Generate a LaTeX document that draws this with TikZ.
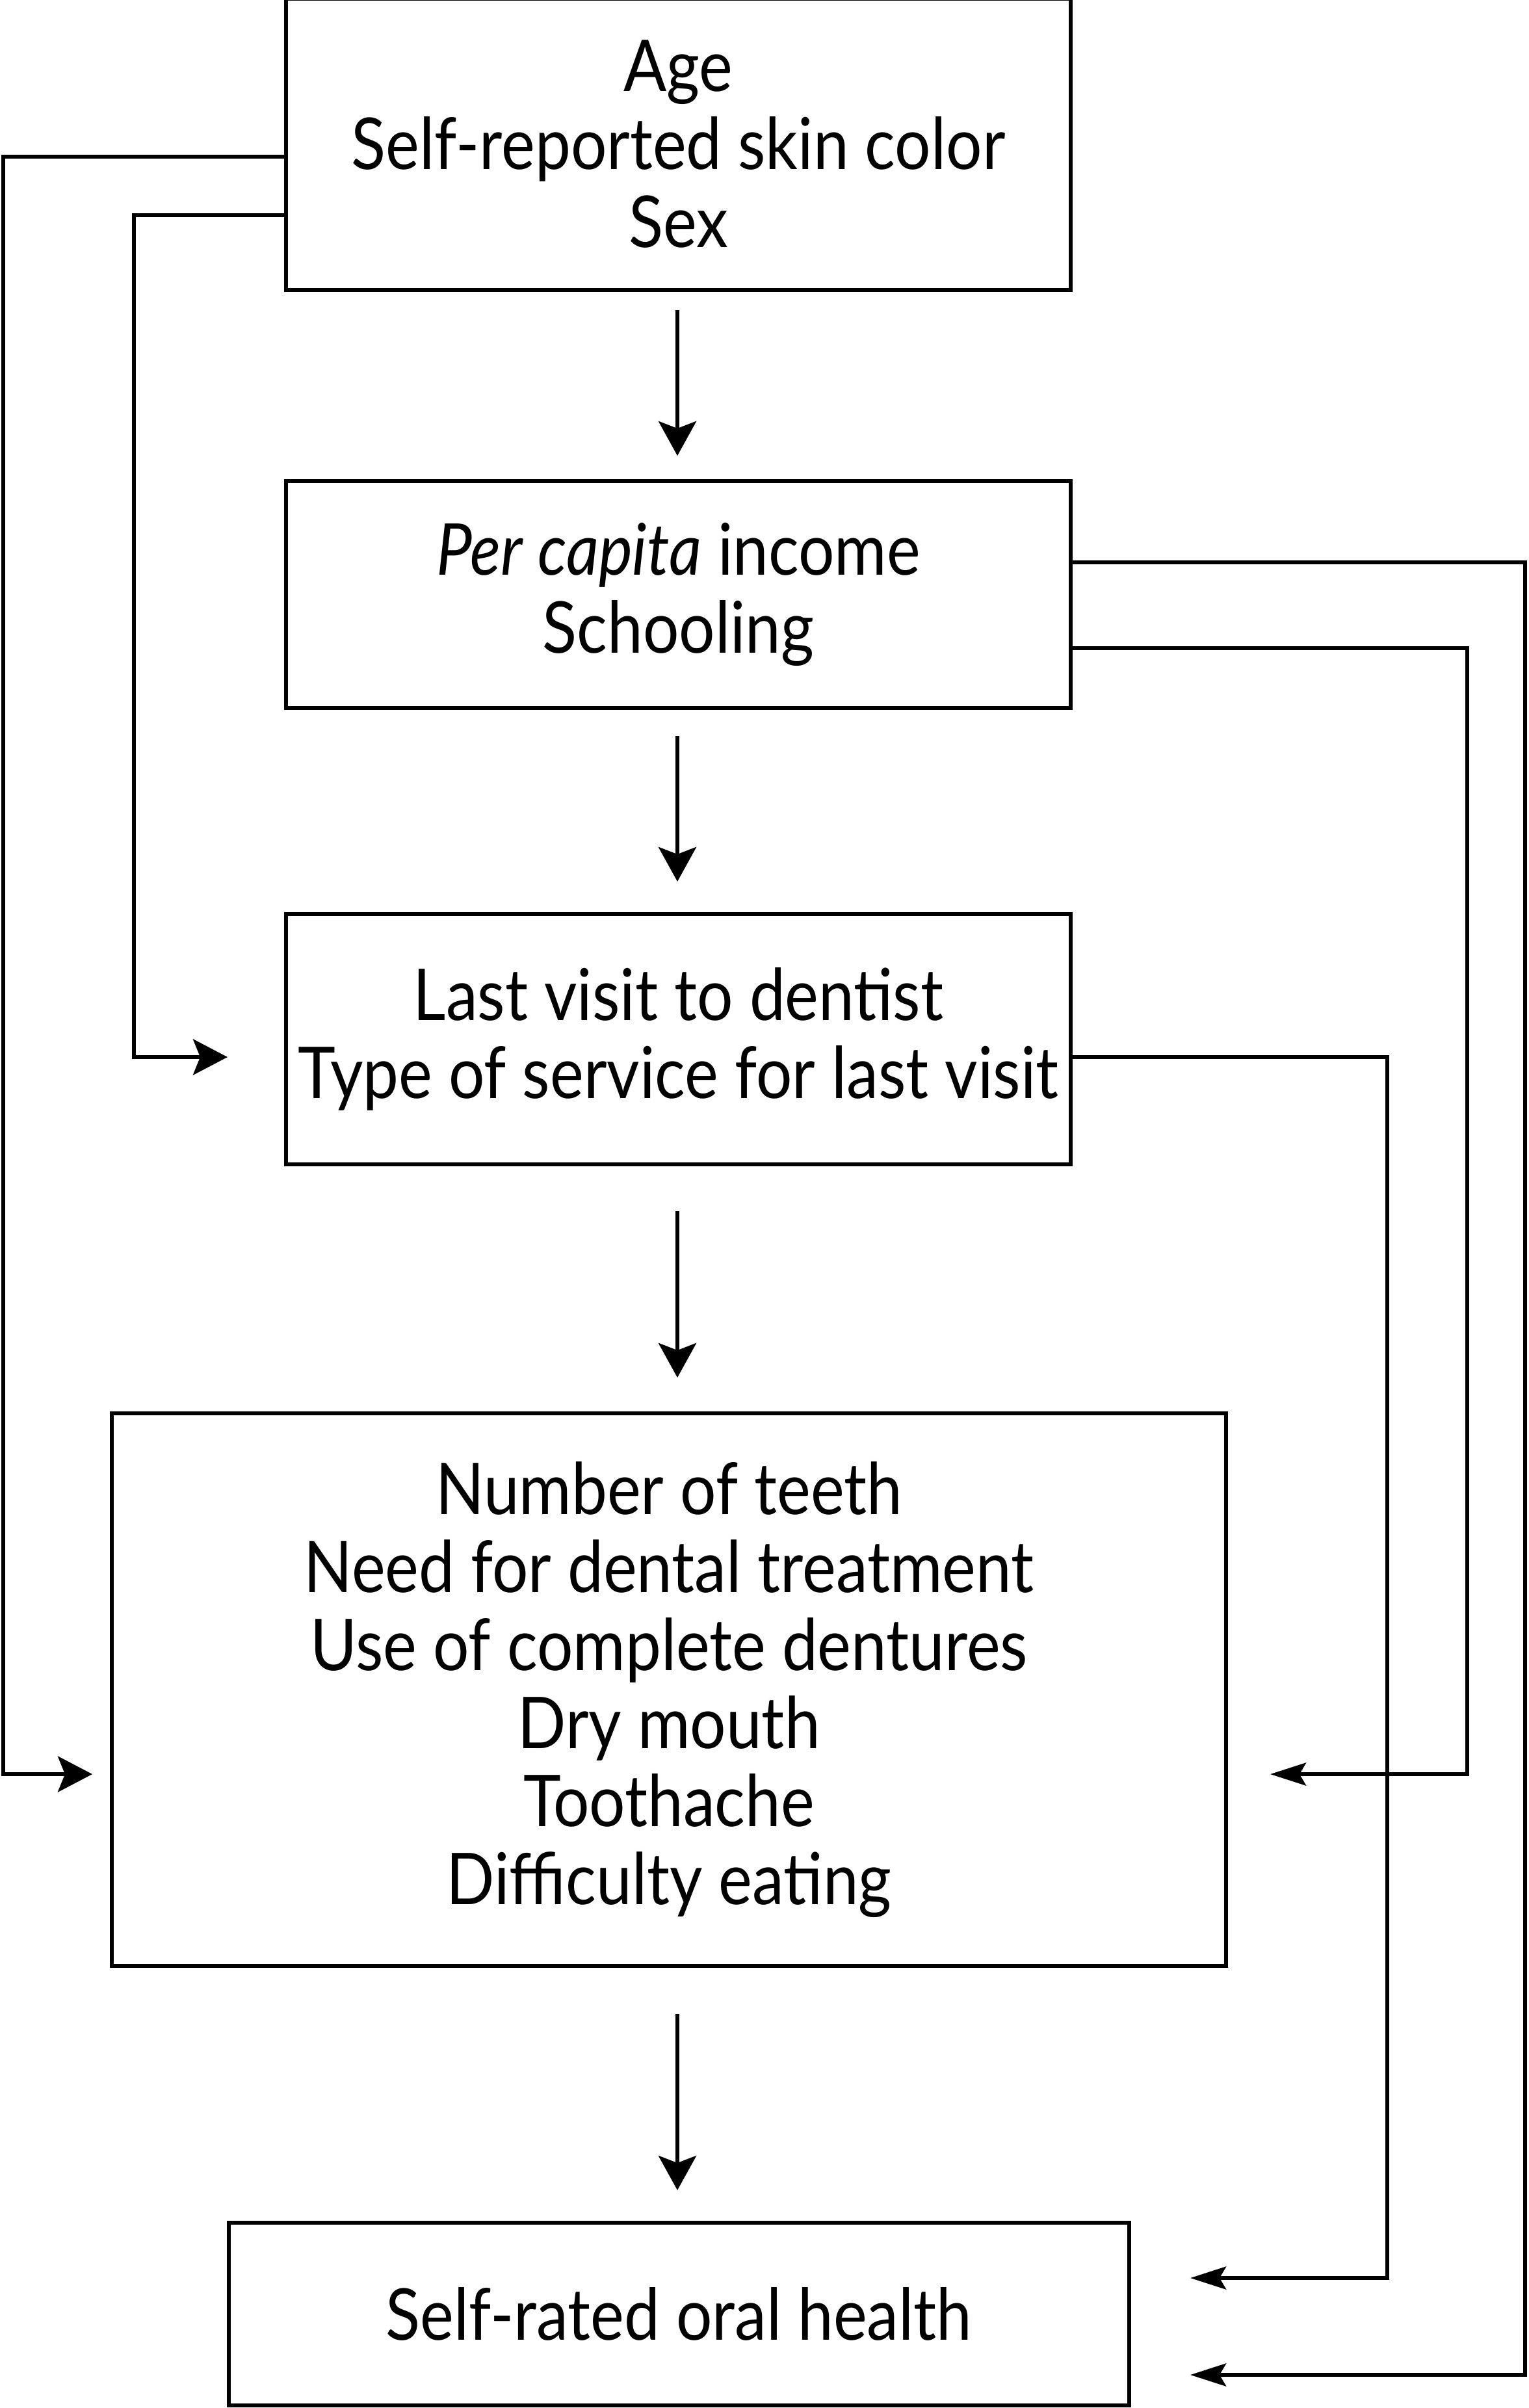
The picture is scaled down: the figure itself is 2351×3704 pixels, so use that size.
\documentclass[tikz,border=0pt]{standalone}
\usepackage{fontspec}
\setmainfont{Lato}[FakeStretch=0.89]
\usetikzlibrary{arrows.meta}
\begin{document}
\begin{tikzpicture}[x=0.2pt,y=-0.2pt,
  box/.style={draw,line width=1.2pt,align=center,inner sep=0pt,
    font=\fontsize{22pt}{24pt}\selectfont},
  line/.style={line width=1.2pt},
  darr/.style={line width=1.2pt,-{Stealth[length=10.6pt,width=11.6pt,inset=2.2pt]}},
  rarr/.style={line width=1.2pt,-{Stealth[length=10.6pt,width=11pt,inset=2.2pt]}},
  larr/.style={line width=1.1pt,-{Stealth[length=11pt,width=7pt,inset=2pt]}}]
\useasboundingbox (0,0) rectangle (2351,3704);
\node[box,minimum width=241.4pt,minimum height=89.4pt] (b1) at (1043.5,222)
  {Age\\Self-reported skin color\\Sex};
\node[box,minimum width=241.4pt,minimum height=69.8pt] (b2) at (1043.5,914.5)
  {\textit{Per capita} income\\Schooling};
\node[box,minimum width=241.4pt,minimum height=77pt] (b3) at (1043.5,1598.5)
  {Last visit to dentist\\Type of service for last visit};
\node[box,minimum width=342.8pt,minimum height=170pt] (b4) at (1029,2599)
  {Number of teeth\\Need for dental treatment\\Use of complete dentures\\Dry mouth\\Toothache\\Difficulty eating};
\node[box,minimum width=277pt,minimum height=56.2pt] (b5) at (1044.5,3559.5)
  {Self-rated oral health};
% vertical arrows
\draw[darr,shorten <=5.6pt,shorten >=7.2pt] ([xshift=-0.3pt]b1.south) -- ([xshift=-0.3pt]b2.north);
\draw[darr,shorten <=8pt,shorten >=9.4pt] ([xshift=-0.3pt]b2.south) -- ([xshift=-0.3pt]b3.north);
\draw[darr,shorten <=13.8pt,shorten >=10.4pt] ([xshift=-0.3pt]b3.south) -- ([xshift=-0.3pt]b3.south |- b4.north);
\draw[darr,shorten <=14.2pt,shorten >=9.4pt] ([xshift=-0.3pt]b3.south |- b4.south) -- ([xshift=-0.3pt]b3.south |- b5.north);
% left connectors
\coordinate (l1) at (5,241);
\coordinate (t1) at (142,2729);
\coordinate (l2) at (206,331);
\coordinate (t2) at (350,1626);
\draw[rarr] (b1.west |- l1) -- (l1) |- (t1);
\draw[rarr] (b1.west |- l2) -- (l2) |- (t2);
% right connectors
\coordinate (r1) at (2346,865);
\coordinate (s1) at (1831,3653);
\coordinate (r2) at (2257,997);
\coordinate (s2) at (1954,2729);
\coordinate (r3) at (2134,1626);
\coordinate (s3) at (1831,3504);
\draw[larr] (b2.east |- r1) -- (r1) |- (s1);
\draw[larr] (b2.east |- r2) -- (r2) |- (s2);
\draw[larr] (b3.east |- r3) -- (r3) |- (s3);
\end{tikzpicture}
\end{document}
